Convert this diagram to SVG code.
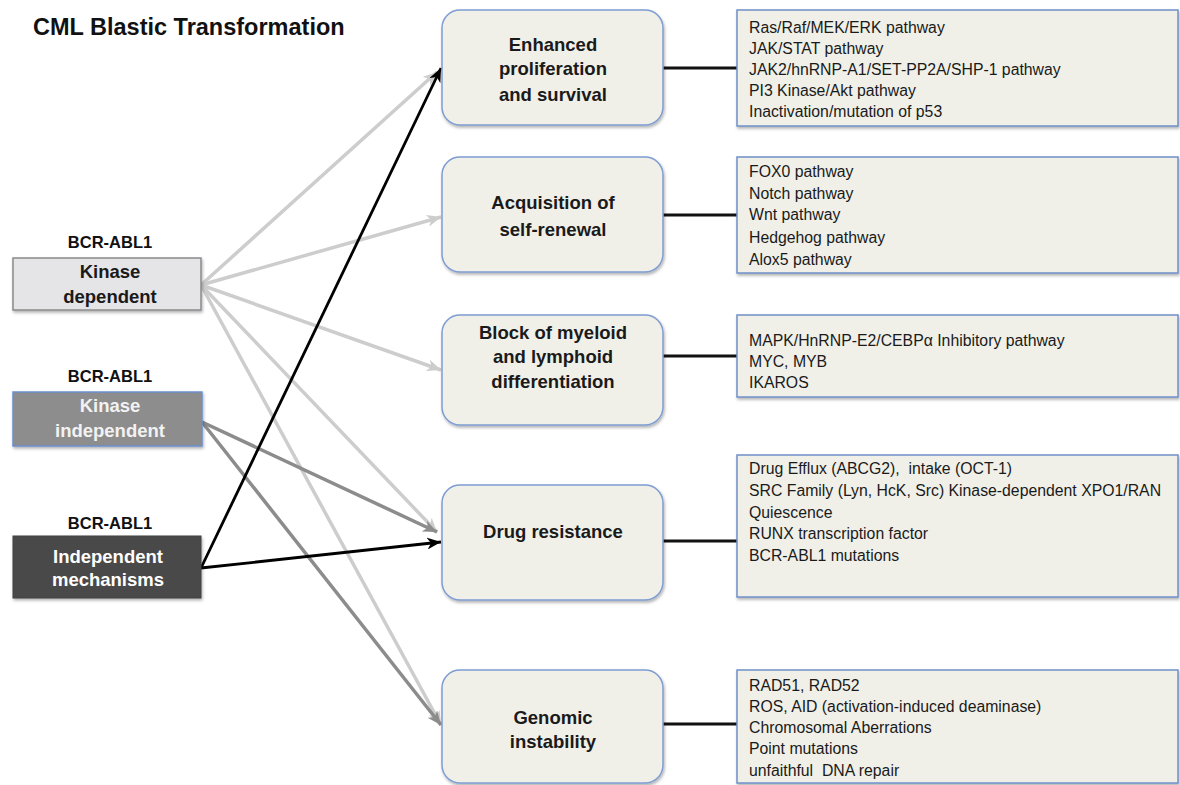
<svg xmlns="http://www.w3.org/2000/svg" width="1180" height="785" viewBox="0 0 1180 785">
<style>
  text { font-family: "Liberation Sans", Arial, sans-serif; white-space: pre; }
  .title { font-size: 23.5px; font-weight: bold; fill: #111; }
  .lbl { font-size: 16.5px; font-weight: bold; fill: #111; text-anchor: middle; }
  .src { font-size: 18.5px; font-weight: bold; text-anchor: middle; }
  .mid { fill: #f0f0e9; stroke: #7e9dd2; stroke-width: 1.5; }
  .midt { font-size: 18.5px; font-weight: bold; fill: #1a1a1a; text-anchor: middle; }
  .box { fill: #f0f0e9; stroke: #6f90c8; stroke-width: 1.5; }
  .boxt { font-size: 15.8px; fill: #1a1a1a; }
  .link { stroke: #111; stroke-width: 3; fill: none; }
  .cl { stroke: #cdcdcd; stroke-width: 3.5; fill: none; marker-end: url(#aL); }
  .cm { stroke: #8c8c8c; stroke-width: 3.5; fill: none; marker-end: url(#aM); }
  .cb { stroke: #000; stroke-width: 2.8; fill: none; marker-end: url(#aB); }
</style>
<defs>
  <filter id="sh" x="-10%" y="-10%" width="120%" height="130%">
    <feDropShadow dx="1" dy="2" stdDeviation="1.5" flood-color="#000" flood-opacity="0.3"/>
  </filter>
  <marker id="aL" markerUnits="userSpaceOnUse" markerWidth="16" markerHeight="12" refX="14" refY="6" orient="auto">
    <path d="M0,0 L14,6 L0,12 L4,6 z" fill="#cdcdcd"/>
  </marker>
  <marker id="aM" markerUnits="userSpaceOnUse" markerWidth="16" markerHeight="12" refX="14" refY="6" orient="auto">
    <path d="M0,0 L14,6 L0,12 L4,6 z" fill="#8c8c8c"/>
  </marker>
  <marker id="aB" markerUnits="userSpaceOnUse" markerWidth="16" markerHeight="12" refX="14" refY="6" orient="auto">
    <path d="M0,0 L14,6 L0,12 L4,6 z" fill="#000"/>
  </marker>
</defs>
<rect width="1180" height="785" fill="#fff"/>

<text class="title" x="33" y="35">CML Blastic Transformation</text>

<g id="connectors">
  <line class="cl" x1="201" y1="285" x2="437" y2="72"/>
  <line class="cl" x1="201" y1="285" x2="441" y2="217"/>
  <line class="cl" x1="201" y1="285" x2="441" y2="370"/>
  <line class="cl" x1="201" y1="285" x2="437" y2="532"/>
  <line class="cl" x1="201" y1="285" x2="441" y2="725"/>
  <line class="cm" x1="202" y1="422" x2="437" y2="532"/>
  <line class="cm" x1="202" y1="422" x2="441" y2="725"/>
  <line class="cb" x1="201" y1="568" x2="441" y2="68"/>
  <line class="cb" x1="201" y1="568" x2="441" y2="542"/>
  <line class="link" x1="663" y1="68" x2="737" y2="68"/>
  <line class="link" x1="663" y1="215" x2="737" y2="215"/>
  <line class="link" x1="663" y1="356" x2="737" y2="356"/>
  <line class="link" x1="663" y1="541" x2="737" y2="541"/>
  <line class="link" x1="663" y1="724" x2="737" y2="724"/>
</g>

<g id="src-kinase-dependent">
  <text class="lbl" x="110" y="248">BCR-ABL1</text>
  <rect x="13" y="258" width="188" height="52" fill="#e5e5e7" stroke="#8a8a8a" stroke-width="1.5" filter="url(#sh)"/>
  <text class="src" x="110" y="278" fill="#1a1a1a">Kinase</text>
  <text class="src" x="110" y="303" fill="#1a1a1a">dependent</text>
</g>
<g id="src-kinase-independent">
  <text class="lbl" x="110" y="382">BCR-ABL1</text>
  <rect x="13" y="392" width="189" height="54" fill="#8d8d8d" stroke="#6a8fd0" stroke-width="1.5" filter="url(#sh)"/>
  <text class="src" x="110" y="412" fill="#f2f2f2">Kinase</text>
  <text class="src" x="110" y="437" fill="#f2f2f2">independent</text>
</g>
<g id="src-independent-mechanisms">
  <text class="lbl" x="110" y="529">BCR-ABL1</text>
  <rect x="13" y="536" width="188" height="62" fill="#4a4a4a" stroke="#3e3e3e" stroke-width="1" filter="url(#sh)"/>
  <text class="src" x="108" y="563" fill="#ffffff">Independent</text>
  <text class="src" x="108" y="586" fill="#ffffff">mechanisms</text>
</g>

<g id="node-proliferation">
  <rect class="mid" x="442" y="10" width="221" height="115" rx="18" filter="url(#sh)"/>
  <text class="midt" x="553" y="51">Enhanced</text>
  <text class="midt" x="553" y="75">proliferation</text>
  <text class="midt" x="553" y="101">and survival</text>
</g>
<g id="node-self-renewal">
  <rect class="mid" x="442" y="157" width="221" height="115" rx="18" filter="url(#sh)"/>
  <text class="midt" x="553" y="209">Acquisition of</text>
  <text class="midt" x="553" y="236">self-renewal</text>
</g>
<g id="node-block">
  <rect class="mid" x="442" y="315" width="221" height="110" rx="18" filter="url(#sh)"/>
  <text class="midt" x="553" y="339">Block of myeloid</text>
  <text class="midt" x="553" y="363">and lymphoid</text>
  <text class="midt" x="553" y="388">differentiation</text>
</g>
<g id="node-drug-resistance">
  <rect class="mid" x="442" y="485" width="221" height="115" rx="18" filter="url(#sh)"/>
  <text class="midt" x="553" y="538">Drug resistance</text>
</g>
<g id="node-genomic">
  <rect class="mid" x="442" y="670" width="221" height="113" rx="18" filter="url(#sh)"/>
  <text class="midt" x="553" y="724">Genomic</text>
  <text class="midt" x="553" y="748">instability</text>
</g>

<g id="box-proliferation">
  <rect class="box" x="737" y="10" width="441" height="116" filter="url(#sh)"/>
  <text class="boxt" x="749" y="33">Ras/Raf/MEK/ERK pathway</text>
  <text class="boxt" x="749" y="54">JAK/STAT pathway</text>
  <text class="boxt" x="749" y="75">JAK2/hnRNP-A1/SET-PP2A/SHP-1 pathway</text>
  <text class="boxt" x="749" y="96">PI3 Kinase/Akt pathway</text>
  <text class="boxt" x="749" y="117">Inactivation/mutation of p53</text>
</g>
<g id="box-self-renewal">
  <rect class="box" x="737" y="157" width="441" height="116" filter="url(#sh)"/>
  <text class="boxt" x="749" y="177">FOX0 pathway</text>
  <text class="boxt" x="749" y="199">Notch pathway</text>
  <text class="boxt" x="749" y="220">Wnt pathway</text>
  <text class="boxt" x="749" y="243">Hedgehog pathway</text>
  <text class="boxt" x="749" y="265">Alox5 pathway</text>
</g>
<g id="box-block">
  <rect class="box" x="737" y="315" width="441" height="82" filter="url(#sh)"/>
  <text class="boxt" x="749" y="346">MAPK/HnRNP-E2/CEBPα Inhibitory pathway</text>
  <text class="boxt" x="749" y="367">MYC, MYB</text>
  <text class="boxt" x="749" y="388">IKAROS</text>
</g>
<g id="box-drug-resistance">
  <rect class="box" x="737" y="455" width="441" height="142" filter="url(#sh)"/>
  <text class="boxt" x="749" y="474">Drug Efflux (ABCG2),  intake (OCT-1)</text>
  <text class="boxt" x="749" y="496">SRC Family (Lyn, HcK, Src) Kinase-dependent XPO1/RAN</text>
  <text class="boxt" x="749" y="518">Quiescence</text>
  <text class="boxt" x="749" y="539">RUNX transcription factor</text>
  <text class="boxt" x="749" y="561">BCR-ABL1 mutations</text>
</g>
<g id="box-genomic">
  <rect class="box" x="737" y="670" width="441" height="113" filter="url(#sh)"/>
  <text class="boxt" x="749" y="691">RAD51, RAD52</text>
  <text class="boxt" x="749" y="712">ROS, AID (activation-induced deaminase)</text>
  <text class="boxt" x="749" y="733">Chromosomal Aberrations</text>
  <text class="boxt" x="749" y="754">Point mutations</text>
  <text class="boxt" x="749" y="776">unfaithful  DNA repair</text>
</g>
</svg>
